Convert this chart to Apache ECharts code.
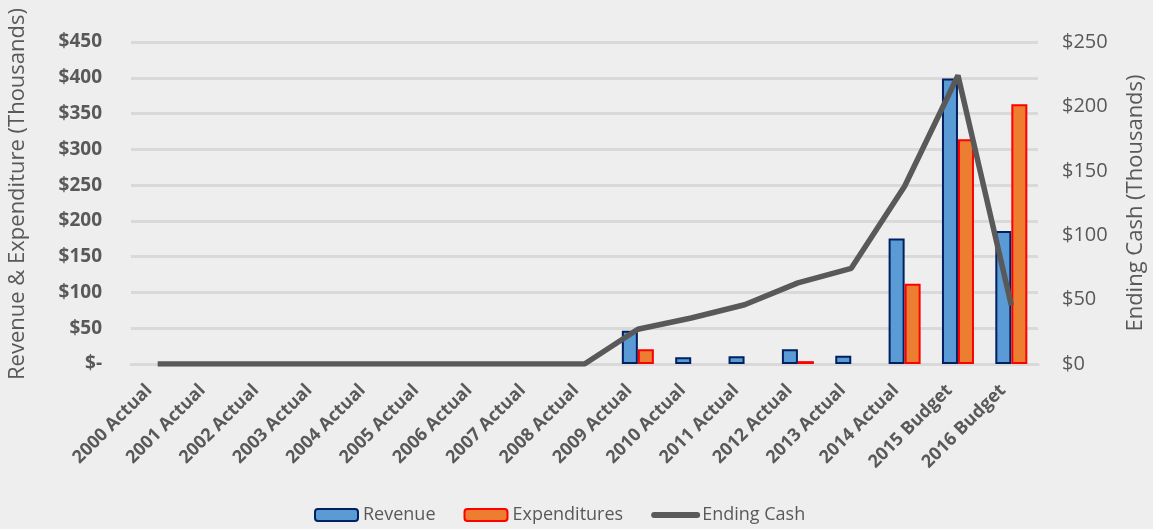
<!DOCTYPE html>
<html lang="en">
<head>
    <meta charset="UTF-8">
    <title>Revenue, Expenditure and Ending Cash</title>
    <script src="https://cdn.jsdelivr.net/npm/echarts@6/dist/echarts.min.js"></script>
    <style type="text/css">
        html, body {
            margin: 0;
            width: 100%;
            height: 100%;
            background: #eeeeee;
        }
        #chart {
            width: 1153px;
            height: 529px;
        }
    </style>
</head>
<body>
<div id="chart"></div>
<script type="text/javascript">
    var categories = ['2000 Actual', '2001 Actual', '2002 Actual', '2003 Actual', '2004 Actual', '2005 Actual',
        '2006 Actual', '2007 Actual', '2008 Actual', '2009 Actual', '2010 Actual', '2011 Actual',
        '2012 Actual', '2013 Actual', '2014 Actual', '2015 Budget', '2016 Budget'];
    // thousands of dollars
    var revenue = [0, 0, 0, 0, 0, 0, 0, 0, 0, 46.5, 9.4, 10.7, 20.5, 11.6, 175.5, 399, 186];
    var expenditures = [0, 0, 0, 0, 0, 0, 0, 0, 0, 20.5, 0, 0, 4, 0, 112, 314, 363];
    var endingCash = [0, 0, 0, 0, 0, 0, 0, 0, 0, 27, 35.7, 46, 63, 74.3, 138, 224, 45.5];

    var fontFamily = '"Open Sans", "Noto Sans", sans-serif';
    var grey = '#595959';

    //左轴 $- 显示
    function leftLabel(v) {
        return v === 0 ? '$-' : '$' + v;
    }

    //0 不画柱子
    function hideZero(arr) {
        return arr.map(function (v) {
            return v === 0 ? '-' : v;
        });
    }

    var myChart = echarts.init(document.getElementById('chart'));
    var option = {
        backgroundColor: '#eeeeee',
        animation: false,
        grid: {
            left: 131,
            right: 115,
            top: 42,
            bottom: 165,
            outerBoundsMode: 'none'
        },
        legend: {
            bottom: 0,
            left: 309,
            itemWidth: 43,
            itemHeight: 12,
            itemGap: 28,
            textStyle: {color: grey, fontSize: 18, fontFamily: fontFamily},
            data: [
                {name: 'Revenue'},
                {name: 'Expenditures'},
                {name: 'Ending Cash', itemStyle: {opacity: 0}, lineStyle: {width: 6, cap: 'round'}}
            ]
        },
        xAxis: {
            type: 'category',
            data: categories,
            axisLine: {show: true, lineStyle: {color: '#d9d9d9', width: 3}},
            axisTick: {show: false},
            axisLabel: {
                rotate: 45,
                interval: 0,
                color: grey,
                fontWeight: 'bold',
                fontSize: 18,
                fontFamily: fontFamily,
                margin: 15,
                padding: [0, 12, 0, 0]
            }
        },
        yAxis: [
            {
                type: 'value',
                min: 0,
                max: 450,
                interval: 50,
                name: 'Revenue & Expenditure (Thousands)',
                nameLocation: 'middle',
                nameGap: 102,
                nameTextStyle: {color: grey, fontSize: 22, fontFamily: fontFamily, padding: [0, 0, 0, 18]},
                axisLabel: {
                    formatter: leftLabel,
                    color: grey,
                    fontWeight: 'bold',
                    fontSize: 19,
                    fontFamily: fontFamily,
                    margin: 29
                },
                axisLine: {show: false},
                axisTick: {show: false},
                splitLine: {lineStyle: {color: '#d9d9d9', width: 3}}
            },
            {
                type: 'value',
                min: 0,
                max: 250,
                interval: 50,
                name: 'Ending Cash (Thousands)',
                nameLocation: 'middle',
                nameGap: 87,
                nameTextStyle: {color: grey, fontSize: 22, fontFamily: fontFamily},
                axisLabel: {
                    formatter: '${value}',
                    color: grey,
                    fontSize: 20,
                    fontFamily: fontFamily,
                    margin: 24
                },
                axisLine: {show: false},
                axisTick: {show: false},
                splitLine: {show: false}
            }
        ],
        series: [
            {
                name: 'Revenue',
                type: 'bar',
                data: hideZero(revenue),
                barGap: '0%',
                barCategoryGap: '40%',
                itemStyle: {color: '#5b9bd5', borderColor: '#002060', borderWidth: 2}
            },
            {
                name: 'Expenditures',
                type: 'bar',
                data: hideZero(expenditures),
                itemStyle: {color: '#ed7d31', borderColor: '#ff0000', borderWidth: 2}
            },
            {
                name: 'Ending Cash',
                type: 'line',
                yAxisIndex: 1,
                data: endingCash,
                symbol: 'none',
                lineStyle: {color: grey, width: 5.5},
                itemStyle: {color: grey}
            }
        ]
    };
    myChart.setOption(option);
</script>
</body>
</html>
